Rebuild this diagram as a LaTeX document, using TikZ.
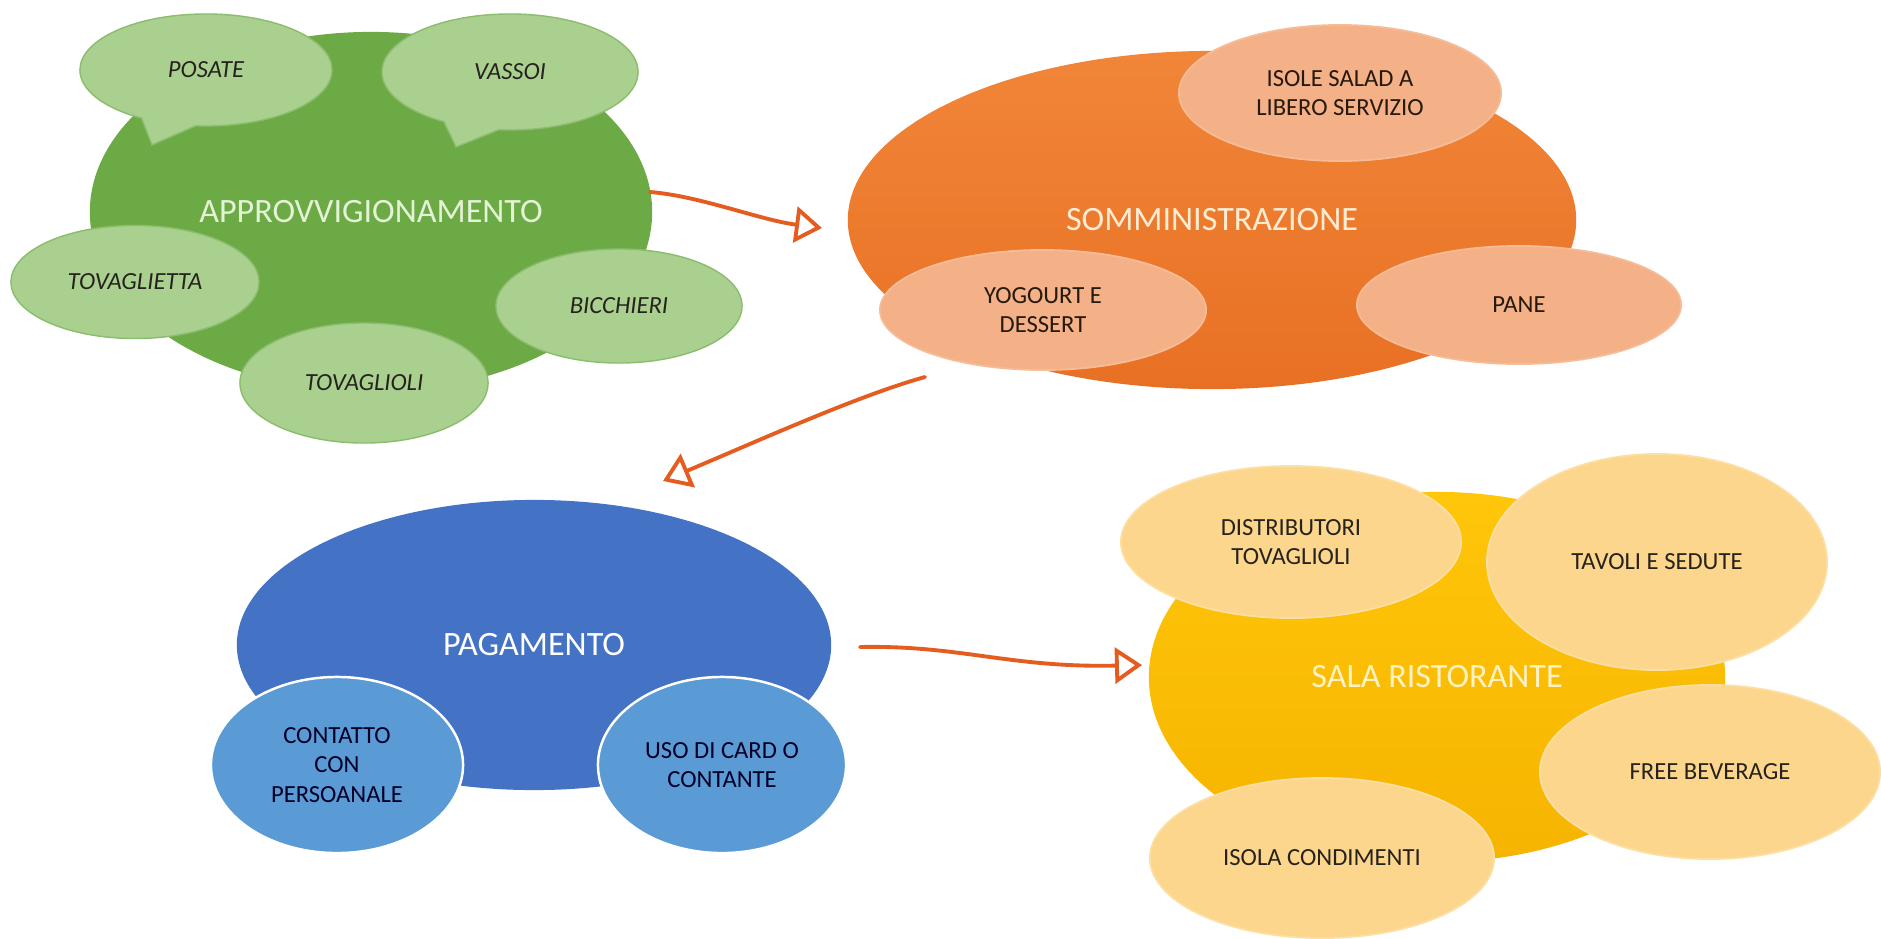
\documentclass[tikz,border=0pt]{standalone}
\usepackage{fontspec}
\setmainfont{Carlito}
\usetikzlibrary{shapes.geometric,shapes.callouts,arrows.meta}

% palette
\definecolor{grmain}{RGB}{108,170,70}
\definecolor{grsub}{RGB}{169,208,142}
\definecolor{grline}{RGB}{140,188,110}
\definecolor{grtext}{RGB}{228,242,214}
\definecolor{ormaintop}{RGB}{241,134,56}
\definecolor{ormainbot}{RGB}{232,112,36}
\definecolor{orsub}{RGB}{244,176,134}
\definecolor{ortext}{RGB}{255,236,212}
\definecolor{blmain}{RGB}{68,114,196}
\definecolor{blsub}{RGB}{91,155,213}
\definecolor{yemaintop}{RGB}{255,198,10}
\definecolor{yemainbot}{RGB}{246,180,0}
\definecolor{yesub}{RGB}{252,214,140}
\definecolor{yetext}{RGB}{255,242,196}
\definecolor{darktext}{RGB}{38,34,30}
\definecolor{flowc}{RGB}{228,92,32}

\tikzset{
  blob/.style={ellipse, inner sep=0pt, align=center},
  mainlbl/.style={font=\fontsize{9.7}{11.5}\selectfont},
  sublbl/.style={font=\fontsize{7}{8.4}\selectfont, text=darktext},
  greensub/.style={blob, sublbl, fill=grsub, draw=grline, line width=0.4pt, font=\fontsize{7}{8.4}\selectfont\itshape},
  greenbubble/.style={ellipse callout, inner sep=0pt, align=center, sublbl,
    fill=grsub, draw=grline, line width=0.4pt, callout pointer arc=26,
    font=\fontsize{7}{8.4}\selectfont\itshape},
  orangesub/.style={blob, sublbl, fill=orsub, draw=orsub!85!white, line width=0.5pt, text=black!80!brown},
  bluesub/.style={blob, sublbl, fill=blsub, draw=white, line width=0.7pt, text=black!85!blue},
  yellowsub/.style={blob, sublbl, fill=yesub, draw=yesub!80!white, line width=0.5pt},
  flow/.style={draw=flowc, line width=1.1pt, line cap=round, line join=round,
    -{Triangle[open, length=0.27cm, width=0.36cm]}}
}

\begin{document}
\begin{tikzpicture}[x=0.01cm, y=-0.01cm]
\useasboundingbox (0,0) rectangle (1881,939);
\fill[white] (0,0) rectangle (1881,939);

% ---- supply ----
\node[blob, mainlbl, fill=grmain, text=grtext, minimum width=5.62cm, minimum height=3.6cm]
  (appr) at (371,212) {APPROVVIGIONAMENTO};
\node[greenbubble, minimum width=2.52cm, minimum height=1.12cm,
  callout absolute pointer={(152,145)}] (posate) at (206,70) {POSATE};
\node[greenbubble, minimum width=2.56cm, minimum height=1.16cm,
  callout absolute pointer={(456,147)}] (vassoi) at (510,72) {VASSOI};
\node[greensub, minimum width=2.48cm, minimum height=1.13cm] (tovaglietta) at (135,282) {TOVAGLIETTA};
\node[greensub, minimum width=2.46cm, minimum height=1.14cm] (bicchieri) at (619,306) {BICCHIERI};
\node[greensub, minimum width=2.48cm, minimum height=1.2cm] (tovaglioli) at (364,383) {TOVAGLIOLI};

% ---- serving ----
\node[blob, mainlbl, top color=ormaintop, bottom color=ormainbot, text=ortext,
  minimum width=7.28cm, minimum height=3.38cm] (somm) at (1212,220) {SOMMINISTRAZIONE};
\node[orangesub, minimum width=3.22cm, minimum height=1.36cm] (salad) at (1340,93)
  {ISOLE SALAD A\\LIBERO SERVIZIO};
\node[orangesub, minimum width=3.26cm, minimum height=1.2cm] (yogurt) at (1043,310)
  {YOGOURT E\\DESSERT};
\node[orangesub, minimum width=3.24cm, minimum height=1.18cm] (pane) at (1519,305) {PANE};

% ---- payment ----
\node[blob, mainlbl, fill=blmain, text=white, minimum width=5.94cm, minimum height=2.9cm]
  (pag) at (534,645) {PAGAMENTO};
\node[bluesub, minimum width=2.52cm, minimum height=1.76cm] (contatto) at (337,765)
  {CONTATTO\\CON\\PERSOANALE};
\node[bluesub, minimum width=2.48cm, minimum height=1.76cm] (card) at (722,765)
  {USO DI CARD O\\CONTANTE};

% ---- dining room ----
\node[blob, mainlbl, top color=yemaintop, bottom color=yemainbot, text=yetext,
  minimum width=5.76cm, minimum height=3.7cm] (sala) at (1437,677) {SALA RISTORANTE};
\node[yellowsub, minimum width=3.4cm, minimum height=1.52cm] (distr) at (1291,542)
  {DISTRIBUTORI\\TOVAGLIOLI};
\node[yellowsub, minimum width=3.4cm, minimum height=2.16cm] (tavoli) at (1657,562)
  {TAVOLI E SEDUTE};
\node[yellowsub, minimum width=3.4cm, minimum height=1.74cm] (bev) at (1710,772)
  {FREE BEVERAGE};
\node[yellowsub, minimum width=3.44cm, minimum height=1.6cm] (cond) at (1322,858)
  {ISOLA CONDIMENTI};

% ---- flow between stages ----
\coordinate (f1s) at (650,192);
\coordinate (f1e) at (822,228);
\coordinate (f2s) at (925,377);
\coordinate (f2e) at (663,481);
\coordinate (f3s) at (860,647);
\coordinate (f3e) at (1142,665);

\draw[flow] (f1s) .. controls (700,196) and (760,220) .. (f1e);
\draw[flow] (f2s) .. controls (860,395) and (760,440) .. (f2e);
\draw[flow] (f3s) .. controls (960,645) and (1010,668) .. (f3e);
\end{tikzpicture}
\end{document}
